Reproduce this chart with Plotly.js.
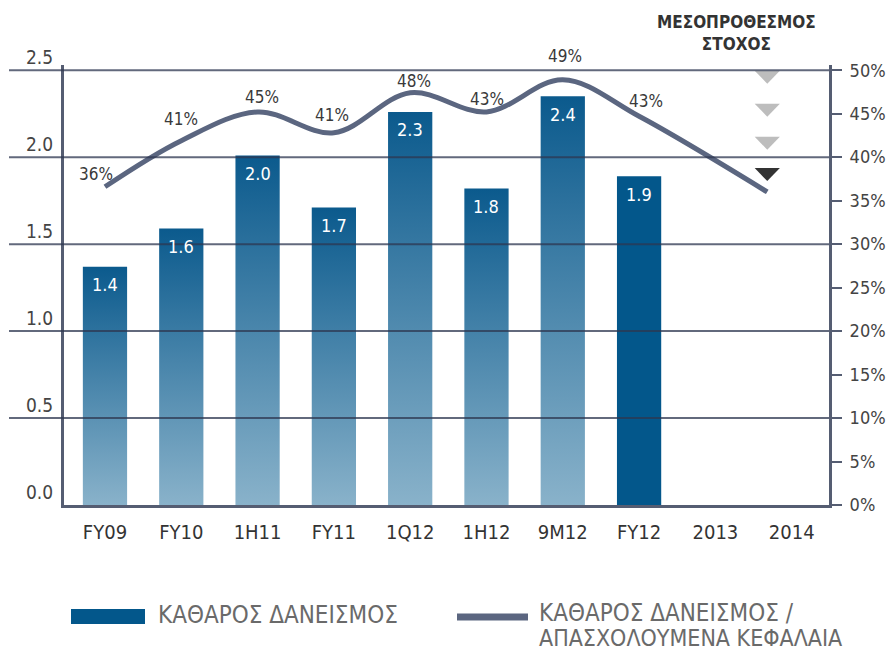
<!DOCTYPE html>
<html><head><meta charset="utf-8">
<script src="https://cdn.plot.ly/plotly-3.0.1.min.js"></script>
<style>html,body{margin:0;padding:0;background:#fff}#chart{width:888px;height:653px}</style>
</head><body><div id="chart"></div>
<script>
// ---- data ----
const categories = ['FY09','FY10','1H11','FY11','1Q12','1H12','9M12','FY12','2013','2014'];
const loanValues = [1.37, 1.59, 2.01, 1.71, 2.26, 1.82, 2.35, 1.89];
const loanLabels = ['1.4','1.6','2.0','1.7','2.3','1.8','2.4','1.9'];
const ratioX = [0, 1, 2, 3, 4, 5, 6, 7, 8.68];
const ratioValues = [36.6, 41.9, 45.2, 42.8, 47.4, 45.2, 48.9, 44.7, 36.0];
const ratioLabels = ['36%','41%','45%','41%','48%','43%','49%','43%'];
const targetX = 8.68;
const targetValues = [49.2, 45.4, 41.6, 38.0];
const leftTicks = [0, 0.5, 1.0, 1.5, 2.0, 2.5];
const leftTickText = ['0.0','0.5','1.0','1.5','2.0','2.5'];
const rightTicks = [0, 5, 10, 15, 20, 25, 30, 35, 40, 45, 50];
const rightTickText = ['0%','5%','10%','15%','20%','25%','30%','35%','40%','45%','50%'];
const seriesNames = ['ΚΑΘΑΡΟΣ ΔΑΝΕΙΣΜΟΣ', 'ΚΑΘΑΡΟΣ ΔΑΝΕΙΣΜΟΣ /', 'ΑΠΑΣΧΟΛΟΥΜΕΝΑ ΚΕΦΑΛΑΙΑ'];
const targetTitle = 'ΜΕΣΟΠΡΟΘΕΣΜΟΣ<br>ΣΤΟΧΟΣ';

// ---- styles ----
const FONT = "'Liberation Sans Narrow', 'DejaVu Sans Condensed', 'Roboto', sans-serif";
const barW = 0.29;
const solidBlue = '#03578b';
const lineColor = '#5b6680';
const axisColor = '#555d72';
const gridColor = 'rgba(45,55,80,0.75)';
const gradScale = [[0, '#89b2ca'], [1, '#0b5a8d']];
const labelDx = [-9, 0, 4, -2, 4, 1, 2, 7];
const labelDy = [13, 22, 15, 18, 12, 13, 24, 15];
const triColors = ['#bdbdbd', '#bdbdbd', '#bdbdbd', '#333333'];
const triHalfW = 0.165, triHalfH = 0.75;

const traces = [];
// bar trace (solid for FY12; gradient bars drawn as filled shapes on top)
traces.push({
  type: 'bar', x: loanValues.map((v, i) => i), y: loanValues, width: barW * 2,
  marker: { color: loanValues.map((v, i) => i === loanValues.length - 1 ? solidBlue : 'rgba(0,0,0,0)'), line: { width: 0 } },
  name: seriesNames[0], hoverinfo: 'y', showlegend: false
});
loanValues.forEach((v, i) => {
  if (i === loanValues.length - 1) return;
  traces.push({
    type: 'scatter', mode: 'none', fill: 'toself',
    x: [i - barW, i + barW, i + barW, i - barW, i - barW],
    y: [0, 0, v, v, 0],
    fillgradient: { type: 'vertical', colorscale: gradScale },
    hoverinfo: 'skip', showlegend: false
  });
});
// ratio line
traces.push({
  type: 'scatter', mode: 'lines', x: ratioX, y: ratioValues, yaxis: 'y2',
  line: { color: lineColor, width: 5, shape: 'spline', smoothing: 1 },
  name: seriesNames[1] + ' ' + seriesNames[2], showlegend: false, hoverinfo: 'y'
});
// target triangles
targetValues.forEach((c, k) => {
  traces.push({
    type: 'scatter', mode: 'none', fill: 'toself', yaxis: 'y2',
    x: [targetX - triHalfW, targetX + triHalfW, targetX, targetX - triHalfW],
    y: [c + triHalfH, c + triHalfH, c - triHalfH, c + triHalfH],
    fillcolor: triColors[k], hoverinfo: 'skip', showlegend: false
  });
});

// plot geometry in paper units
const L = 64, R = 829, T = 65, B = 505;
const px = x => (x - L) / (R - L);
const py = y => (B - y) / (B - T);

const shapes = [];
leftTicks.forEach(v => {
  if (v === 0) return;
  shapes.push({ type: 'line', xref: 'paper', yref: 'y', x0: px(9), x1: 1, y0: v, y1: v,
    line: { color: gridColor, width: 2 }, layer: 'above' });
});
// manual legend swatches
shapes.push({ type: 'rect', xref: 'paper', yref: 'paper', x0: px(71), x1: px(145), y0: py(624), y1: py(609),
  fillcolor: solidBlue, line: { width: 0 } });
shapes.push({ type: 'line', xref: 'paper', yref: 'paper', x0: px(457), x1: px(528), y0: py(617), y1: py(617),
  line: { color: lineColor, width: 7 } });

const annotations = [];
loanValues.forEach((v, i) => {
  annotations.push({ x: i, y: v, xref: 'x', yref: 'y', yshift: -18, text: loanLabels[i], showarrow: false,
    xanchor: 'center', yanchor: 'middle',
    font: { family: FONT, size: 18, color: '#ffffff' } });
});
ratioLabels.forEach((t, i) => {
  annotations.push({ x: ratioX[i], y: ratioValues[i], xref: 'x', yref: 'y2', xshift: labelDx[i], yshift: labelDy[i],
    xanchor: 'center', yanchor: 'middle',
    text: t, showarrow: false, font: { family: FONT, size: 17, color: '#3a3a3a' } });
});
annotations.push({ xref: 'paper', yref: 'paper', x: px(736), y: py(33), xanchor: 'center', yanchor: 'middle',
  text: '<b>' + targetTitle + '</b>', showarrow: false,
  font: { family: FONT, size: 17, color: '#333333' }, align: 'center' });
annotations.push({ xref: 'paper', yref: 'paper', x: px(156), y: py(615), xanchor: 'left', yanchor: 'middle',
  text: seriesNames[0], showarrow: false, font: { family: FONT, size: 24, color: '#6a6a6a' } });
annotations.push({ xref: 'paper', yref: 'paper', x: px(537), y: py(613), xanchor: 'left', yanchor: 'middle',
  text: seriesNames[1], showarrow: false, font: { family: FONT, size: 24, color: '#6a6a6a' } });
annotations.push({ xref: 'paper', yref: 'paper', x: px(537), y: py(638), xanchor: 'left', yanchor: 'middle',
  text: seriesNames[2], showarrow: false, font: { family: FONT, size: 23, color: '#6a6a6a' } });

const layout = {
  width: 888, height: 653,
  margin: { l: L, r: 888 - R, t: T, b: 653 - B, pad: 0 },
  paper_bgcolor: '#ffffff', plot_bgcolor: '#ffffff',
  showlegend: false,
  font: { family: FONT, color: '#333333' },
  xaxis: {
    range: [-0.537, 9.489], tickmode: 'array', tickvals: categories.map((c, i) => i), ticktext: categories,
    showgrid: false, zeroline: false, showline: true, linecolor: axisColor, linewidth: 3, ticks: '',
    tickfont: { family: FONT, size: 20, color: '#333333' }, ticklabelstandoff: 7, layer: 'above traces', fixedrange: true
  },
  yaxis: {
    range: [0, 2.53], tickmode: 'array', tickvals: leftTicks, ticktext: leftTickText,
    showgrid: false, zeroline: false, showline: true, linecolor: axisColor, linewidth: 3, ticks: '',
    tickfont: { family: FONT, size: 19, color: '#444444' }, ticklabelshift: -13, ticklabelstandoff: 4,
    layer: 'above traces', fixedrange: true
  },
  yaxis2: {
    overlaying: 'y', side: 'right', range: [0, 50.6], tickmode: 'array', tickvals: rightTicks, ticktext: rightTickText,
    showgrid: false, zeroline: false, showline: true, linecolor: axisColor, linewidth: 3,
    ticks: 'outside', ticklen: 10, tickwidth: 2, tickcolor: axisColor,
    tickfont: { family: FONT, size: 18, color: '#444444' }, ticklabelstandoff: 4, layer: 'above traces', fixedrange: true
  },
  shapes: shapes,
  annotations: annotations
};

Plotly.newPlot('chart', traces, layout, { staticPlot: true, displayModeBar: false });
</script>
</body></html>
